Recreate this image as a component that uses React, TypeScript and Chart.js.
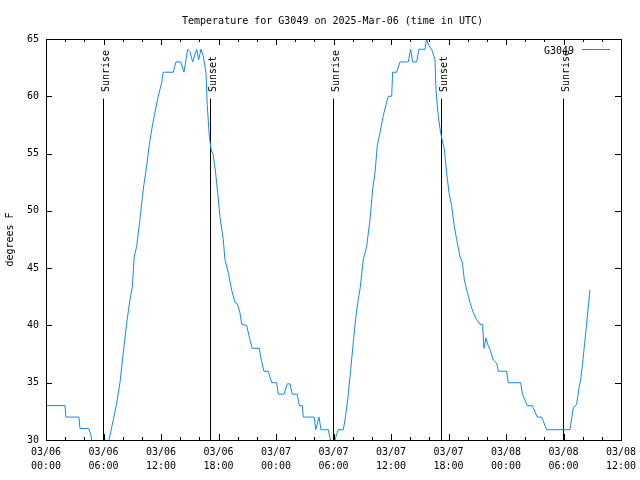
import { useEffect, useRef } from 'react';
import { Chart, registerables } from 'chart.js';

Chart.register(...registerables);

const TITLE = 'Temperature for G3049 on 2025-Mar-06 (time in UTC)';
const SERIES_NAME = 'G3049';
const Y_TITLE = 'degrees F';
const FONT_FAMILY = 'DejaVu Sans Mono';

// hours since 03/06 00:00 UTC
const hours = [
  0, 1.98, 2.08, 3.44, 3.54, 4.48, 4.69, 4.85, 5.9, 6.4, 6.57, 7.02, 7.37, 7.72, 8.06, 8.42, 8.76, 9.0,
  9.21, 9.46, 9.8, 10.15, 10.5, 10.77, 11.03, 11.3, 11.71, 12.07, 12.24, 13.28, 13.56, 14.05, 14.4, 14.78,
  15.02, 15.3, 15.72, 15.93, 16.17, 16.41, 16.69, 16.83, 17.04, 17.22, 17.45, 17.7, 17.91, 18.15, 18.5,
  18.67, 19.02, 19.37, 19.72, 19.96, 20.24, 20.42, 20.94, 21.28, 21.52, 22.25, 22.5, 22.74, 23.19, 23.55,
  24.07, 24.24, 24.83, 25.18, 25.46, 25.7, 26.22, 26.43, 26.74, 26.85, 27.99, 28.14, 28.49, 28.69, 29.45,
  29.74, 29.94, 30.26, 30.5, 31.02, 31.2, 31.48, 31.79, 32.06, 32.34, 32.58, 32.79, 33.11, 33.46, 33.81,
  34.09, 34.33, 34.57, 34.85, 35.19, 35.55, 35.71, 36.07, 36.17, 36.59, 36.94, 37.8, 38.05, 38.26, 38.68,
  38.92, 39.55, 39.72, 39.96, 40.24, 40.59, 40.69, 40.93, 41.18, 41.39, 41.56, 41.81, 42.05, 42.33, 42.6,
  42.85, 43.2, 43.44, 43.65, 43.9, 44.24, 44.59, 44.94, 45.28, 45.56, 45.7, 45.91, 46.15, 46.33, 46.67,
  47.03, 47.2, 48.07, 48.24, 49.53, 49.72, 50.22, 50.74, 51.26, 51.72, 52.24, 54.67, 55.02, 55.37, 55.65,
  55.79, 56.03, 56.35, 56.76,
];

// degrees F
const temps = [
  33, 33, 32, 32, 31, 31, 30.4, 29.5, 29.0, 29.5, 30.0, 31.75, 33.2, 35, 37.6, 40.2, 42.25, 43.3,
  46.0, 46.9, 49.25, 51.9, 53.9, 55.7, 57.1, 58.3, 60.0, 61.2, 62.1, 62.1, 63.0, 63.0, 62.1, 64.1,
  63.9, 63.0, 64.1, 63.2, 64.1, 63.5, 62.1, 59.2, 56.5, 55.4, 54.9, 53.3, 51.6, 49.5, 47.5,
  45.75, 44.6, 43.1, 42.0, 41.9, 41.1, 40.1, 40.0, 38.75, 38.0, 38.0, 36.85, 36.0, 36.0, 35.0,
  35.0, 34.0, 34.0, 34.9, 34.9, 34.0, 34.0, 33.0, 33.0, 32.0, 32.0, 30.9, 32.0, 30.9, 30.9,
  29.8, 29.5, 30.3, 30.9, 30.9, 31.75, 33.5, 36.1, 38.5, 40.8, 42.25, 43.3, 45.75, 46.9, 49.25,
  51.9, 53.3, 55.7, 56.8, 58.3, 59.5, 60.0, 60.0, 62.1, 62.1, 63.0, 63.0, 64.1, 63.0, 63.0,
  64.1, 64.1, 65.0, 64.4, 64.1, 63.2, 60.6, 58.3, 56.8, 56.0, 55.4, 53.3, 51.6, 50.4, 48.7,
  47.5, 46.0, 45.5, 44.0, 43.1, 42.0, 41.1, 40.5, 40.1, 40.1, 38.0, 38.9, 38.2, 37.9, 37.0,
  36.7, 36.0, 36.0, 35.0, 35.0, 34.0, 33.0, 33.0, 32.0, 32.0, 30.9, 30.9, 32.8, 33.1, 34.7,
  35.25, 37.0, 39.6, 43.1,
];

const eventHours = [6.0, 17.17, 30.0, 41.27, 54.0];
const eventLabels = ['Sunrise', 'Sunset', 'Sunrise', 'Sunset', 'Sunrise'];
const EVENT_LINE_BOTTOM = 30;
const EVENT_LINE_TOP = 59.8;

const xTickDates = ['03/06', '03/06', '03/06', '03/06', '03/07', '03/07', '03/07', '03/07', '03/08', '03/08', '03/08'];
const xTickTimes = ['00:00', '06:00', '12:00', '18:00', '00:00', '06:00', '12:00', '18:00', '00:00', '06:00', '12:00'];

const X_MIN = 0;
const X_MAX = 60;
const X_MAJOR_STEP = 6;
const X_MINOR_STEP = 2;
const Y_MIN = 30;
const Y_MAX = 65;
const Y_STEP = 5;

const LINE_COLOR = '#1188ff';
const FONT = `10px "${FONT_FAMILY}"`;

const framePlugin = {
  id: 'gnuFrame',
  afterDraw(chart: any) {
    const { ctx, chartArea: a, scales } = chart;
    const x = scales.x;
    const y = scales.y;
    ctx.save();
    ctx.strokeStyle = '#000';
    ctx.lineWidth = 1;
    ctx.strokeRect(Math.round(a.left) + 0.5, Math.round(a.top) + 0.5, Math.round(a.right - a.left), Math.round(a.bottom - a.top));
    ctx.beginPath();
    x.ticks.forEach((t: any) => {
      const px = Math.round(x.getPixelForValue(t.value)) + 0.5;
      const len = t.value % X_MAJOR_STEP === 0 ? 6 : 3;
      ctx.moveTo(px, a.bottom);
      ctx.lineTo(px, a.bottom - len);
      ctx.moveTo(px, a.top);
      ctx.lineTo(px, a.top + len);
    });
    y.ticks.forEach((t: any) => {
      const py = Math.round(y.getPixelForValue(t.value)) + 0.5;
      ctx.moveTo(a.left, py);
      ctx.lineTo(a.left + 6, py);
      ctx.moveTo(a.right, py);
      ctx.lineTo(a.right - 6, py);
    });
    ctx.stroke();

    ctx.fillStyle = '#000';
    ctx.font = FONT;

    // event labels
    eventHours.forEach((h, i) => {
      const px = x.getPixelForValue(h);
      ctx.save();
      ctx.translate(px + 5.3, 92);
      ctx.rotate(-Math.PI / 2);
      ctx.textAlign = 'left';
      ctx.textBaseline = 'alphabetic';
      ctx.fillText(eventLabels[i], 0, 0);
      ctx.restore();
    });

    // title
    ctx.textAlign = 'center';
    ctx.textBaseline = 'alphabetic';
    ctx.fillText(TITLE, 332.5, 24);

    // legend
    ctx.textAlign = 'right';
    ctx.fillText(SERIES_NAME, 574, 54);
    ctx.strokeStyle = LINE_COLOR;
    ctx.beginPath();
    ctx.moveTo(582, 49.5);
    ctx.lineTo(610, 49.5);
    ctx.stroke();

    // y title
    ctx.save();
    ctx.translate(10, (a.top + a.bottom) / 2);
    ctx.rotate(-Math.PI / 2);
    ctx.textAlign = 'center';
    ctx.textBaseline = 'middle';
    ctx.fillStyle = '#000';
    ctx.fillText(Y_TITLE, 0, 0);
    ctx.restore();

    ctx.restore();
  },
};

export default function App() {
  const canvasRef = useRef<HTMLCanvasElement | null>(null);

  useEffect(() => {
    const canvas = canvasRef.current;
    if (!canvas) return;

    const tempData = hours.map((h, i) => ({ x: h, y: temps[i] }));
    const eventSets = eventHours.map((h) => ({
      label: '',
      data: [
        { x: h, y: EVENT_LINE_BOTTOM },
        { x: h, y: EVENT_LINE_TOP },
      ],
      borderColor: '#000',
      borderWidth: 1,
      pointRadius: 0,
      fill: false,
    }));

    const chart = new Chart(canvas, {
      type: 'line',
      data: {
        datasets: [
          {
            label: SERIES_NAME,
            data: tempData,
            borderColor: LINE_COLOR,
            borderWidth: 1,
            pointRadius: 0,
            tension: 0,
            fill: false,
          },
          ...eventSets,
        ],
      },
      options: {
        animation: false,
        responsive: false,
        devicePixelRatio: 1,
        events: [],
        layout: { padding: { top: 39, right: 19, left: 0, bottom: 0 } },
        plugins: {
          legend: { display: false },
          title: { display: false },
          tooltip: { enabled: false },
        },
        scales: {
          x: {
            type: 'linear',
            min: X_MIN,
            max: X_MAX,
            grid: { display: false, drawTicks: false },
            border: { display: false },
            afterFit: (s: any) => {
              s.height = 40;
              s.paddingLeft = 0;
              s.paddingRight = 0;
            },
            ticks: {
              stepSize: X_MINOR_STEP,
              autoSkip: false,
              maxRotation: 0,
              minRotation: 0,
              padding: 6,
              color: '#000',
              font: { family: FONT_FAMILY, size: 10, lineHeight: 1.35 },
              callback: (v: any) => {
                const n = Number(v);
                if (n % X_MAJOR_STEP !== 0) return '';
                const i = n / X_MAJOR_STEP;
                return [xTickDates[i], xTickTimes[i]];
              },
            },
          },
          y: {
            type: 'linear',
            min: Y_MIN,
            max: Y_MAX,
            grid: { display: false, drawTicks: false },
            border: { display: false },
            afterFit: (s: any) => {
              s.width = 46;
              s.paddingTop = 0;
              s.paddingBottom = 0;
            },
            ticks: {
              stepSize: Y_STEP,
              padding: 7,
              color: '#000',
              font: { family: FONT_FAMILY, size: 10 },
            },
          },
        },
      },
      plugins: [framePlugin],
    });

    return () => chart.destroy();
  }, []);

  return (
    <div style={{ position: 'absolute', left: 0, top: 0, width: 640, height: 480, background: '#fff' }}>
      <canvas ref={canvasRef} width={640} height={480} />
    </div>
  );
}
